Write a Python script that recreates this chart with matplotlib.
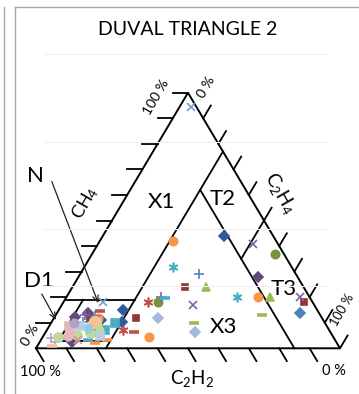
import matplotlib.pyplot as plt
from matplotlib.lines import Line2D
import numpy as np

plt.rcParams['font.family'] = ['Lato', 'DejaVu Sans']
plt.rcParams['mathtext.default'] = 'regular'

# gas ratios (%) of the samples
ch4 = [94.5, 44, 41, 37, 42, 32, 29, 24, 24, 17, 10, 6.5, 28, 20, 20, 20, 13, 18, 20, 14,
       18, 15, 12, 12, 18, 18, 20, 19.6, 4.5, 6.5, 7, 10, 10.4, 4,
       12.4, 13.7, 13, 14.7, 6.5, 5.9, 5.2, 7.2, 8.7, 2, 3.2, 2.6, 4.5, 8.7, 7.9, 4.8,
       10.3, 12.6, 7.2, 11.9, 3.2, 9.5, 9.9, 3.2, 11.1, 4.8, 4, 11.9, 8.3, 2.5, 0.9, 10.4]
c2h4 = [3.6, 40, 51, 60, 24, 29, 39, 37, 44, 43, 47, 49, 59, 56, 63, 67, 68, 79, 77, 80,
        13, 21, 27, 34, 28, 31, 31, 32.6, 35, 29, 25, 21, 23, 3,
        6.6, 10.4, 9.6, 13.7, 16.8, 14.9, 10.8, 7.6, 6.5, 18.4, 21.7, 10.4, 5, 10.1, 13.1, 18.6,
        10.4, 13.1, 19.1, 14.5, 12.2, 13.6, 7.5, 15.5, 15.9, 8.1, 7.2, 11.9, 16.8, 5.1, 4.8, 14.2]
c2h2 = [1.9, 16, 8, 3, 34, 39, 32, 39, 32, 40, 43, 44.5, 13, 24, 17, 13, 19, 3, 3, 6,
        69, 64, 61, 54, 54, 51, 49, 47.8, 60.5, 64.5, 68, 69, 66.6, 93,
        81, 75.9, 77.4, 71.6, 76.7, 79.2, 84, 85.2, 84.8, 79.6, 75.1, 87, 90.5, 81.2, 79, 76.6,
        79.3, 74.3, 73.7, 73.6, 84.6, 76.9, 82.6, 81.3, 73, 87.1, 88.8, 76.2, 74.9, 92.4, 94.3, 75.4]
group = [13, 2, 5, 12, 7, 6, 8, 3, 4, 5, 9, 10, 11, 6, 7, 4, 9, 3, 5, 1,
         13, 2, 3, 10, 14, 12, 15, 16, 7, 17, 14, 18, 2, 19,
         11, 11, 15, 17, 12, 21, 21, 22, 22, 23, 23, 11, 21, 25, 24, 25,
         8, 8, 18, 7, 28, 4, 27, 16, 2, 30, 13, 3, 26, 19, 29, 20]

# zone boundaries as (CH4, C2H4, C2H2) end points
zone_lines = [
    ((77, 23, 0), (0, 23, 77)),
    ((62, 23, 15), (0, 85, 15)),
    ((50, 50, 0), (35, 50, 15)),
    ((19, 0, 81), (19, 23, 58)),
    ((19, 6, 75), (3, 6, 91)),
    ((3, 6, 91), (3, 23, 74)),
]
tick_values = [10, 20, 30, 40, 50, 60, 70, 80, 90, 100]

# marker, colour, size for each sample group
styles = {
    1: ('D', '#4F81BD', 5), 2: ('D', '#305A99', 5), 3: ('s', '#953735', 5),
    4: ('^', '#9BBB59', 6), 5: ('x', '#8064A2', 6), 6: ((6, 2, 0), '#4BACC6', 7),
    7: ('o', '#F79646', 6), 8: ('+', '#4F81BD', 6.5), 9: ('_', '#9BBB59', 6.5),
    10: ('D', '#A5B8DF', 5), 11: ('D', '#604A7B', 5), 12: ('o', '#77933C', 6),
    13: ('x', '#7A9CD6', 6), 14: ((6, 2, 0), '#C0504D', 7), 15: ('+', '#8064A2', 6.5),
    16: ('_', '#4BACC6', 6.5), 17: ('_', '#C0504D', 6.5), 18: ('s', '#4BACC6', 6),
    19: ('+', '#B3A2C7', 6.5), 20: ('o', '#FAC090', 8.5), 21: ('o', '#C3D69B', 6.5),
    22: ('s', '#E6B9B8', 5.5), 23: ('_', '#F79646', 6.5), 24: ('o', '#93CDDD', 6),
    25: ('s', '#B9CDE5', 5.5), 26: ('^', '#C3D69B', 6), 27: ('o', '#B3A2C7', 6),
    28: ('x', '#D99694', 6), 29: ('_', '#FAC090', 6.5), 30: ('o', '#E6B9B8', 6),
}


def tern(a, b, c):
    # (CH4, C2H4, C2H2) -> cartesian, C2H2 corner left, C2H4 corner right, CH4 on top
    a, b, c = (np.asarray(v, float) for v in (a, b, c))
    s = a + b + c
    a, b = a / s * 100, b / s * 100
    return b + a / 2, a * np.sqrt(3) / 2


fig = plt.figure(figsize=(3.59, 3.94), dpi=100)
ax = fig.add_axes([0, 0, 1, 1])
ax.set_xlim(-11.84, 106.25)
ax.set_ylim(-15.49, 118.03)
ax.axis('off')

# chart frame and faint gridlines
for x in [4 / 359, 14.5 / 359]:
    fig.add_artist(Line2D([x, x], [0, 1 - 7 / 394], color='#a6a6a6', lw=1))
fig.add_artist(Line2D([14.5 / 359, 1], [1 - 7 / 394] * 2, color='#a6a6a6', lw=1))
for py in [54, 142, 229, 286]:
    fig.add_artist(Line2D([43 / 359, 327 / 359], [1 - py / 394] * 2, color='#f0f0f0', lw=0.8))

# triangle outline
tx, ty = tern([0, 0, 100, 0], [0, 100, 0, 0], [100, 0, 0, 100])
ax.plot(tx, ty, color='black', lw=1.4, solid_joinstyle='miter')

for p, q in zone_lines:
    lx, ly = tern(*zip(p, q))
    ax.plot(lx, ly, color='black', lw=1.3)

# axis ticks
tl = 5.0
for k in tick_values:
    bx, by = tern(k, 0, 100 - k)
    ax.plot([bx, bx - tl], [by, by], color='black', lw=1.3)
    bx, by = tern(100 - k, k, 0)
    ax.plot([bx, bx + tl * 0.5], [by, by + tl * 0.866], color='black', lw=1.3)
    bx, by = tern(0, 100 - k, k)
    ax.plot([bx, bx + tl * 0.5], [by, by - tl * 0.866], color='black', lw=1.3)

# samples
px, py = tern(ch4, c2h4, c2h2)
group = np.array(group)
for g, (m, col, ms) in styles.items():
    sel = group == g
    if not sel.any():
        continue
    lw = 2.6 if m == '_' else 1.2
    ax.plot(px[sel], py[sel], ls='none', marker=m, color=col, ms=ms, mew=lw)

# labels
ax.text(50, 108.1, 'DUVAL TRIANGLE 2', ha='center', va='center', fontsize=14)
ax.text(39.4, 85.0, '100 %', ha='center', va='center', rotation=60, fontsize=10,
        rotation_mode='anchor')
ax.text(55.9, 88.6, '0 %', ha='center', va='center', rotation=60, fontsize=10,
        rotation_mode='anchor')
ax.text(16.1, 49.4, r'$CH_4$', ha='center', va='center', rotation=60, fontsize=13,
        rotation_mode='anchor')
ax.text(80.3, 52.5, r'$C_2H_4$', ha='center', va='center', rotation=-60, fontsize=13.5,
        rotation_mode='anchor')
ax.text(51.3, -10.1, r'$C_2H_2$', ha='center', va='center', fontsize=13.5)
ax.text(1.6, -7.9, '100 %', ha='center', va='center', fontsize=10.5)
ax.text(98.0, -7.7, '0 %', ha='center', va='center', fontsize=10.5)
ax.text(100.8, 13.0, '100 %', ha='center', va='center', rotation=60, fontsize=9,
        rotation_mode='anchor')
ax.text(-2.0, 4.3, '0 %', ha='center', va='center', rotation=60, fontsize=10,
        rotation_mode='anchor')

for s, x, y in [('N', -0.1, 58.5), ('D1', 0.9, 22.8), ('X1', 41.4, 49.6),
                ('T2', 61.3, 50.6), ('T3', 81.4, 20.1), ('X3', 61.7, 7.2)]:
    ax.text(x, y, s, ha='center', va='center', fontsize=16)

arrow = dict(arrowstyle='->,head_length=0.45,head_width=0.2', lw=0.9, color='#222222',
             shrinkA=0, shrinkB=0)
ax.annotate('', xy=(20.5, 15.3), xytext=(5.2, 56.5), arrowprops=arrow)
ax.annotate('', xy=(6.6, 9.6), xytext=(1.9, 18.4), arrowprops=arrow)

fig.savefig('out.png', dpi=100)
